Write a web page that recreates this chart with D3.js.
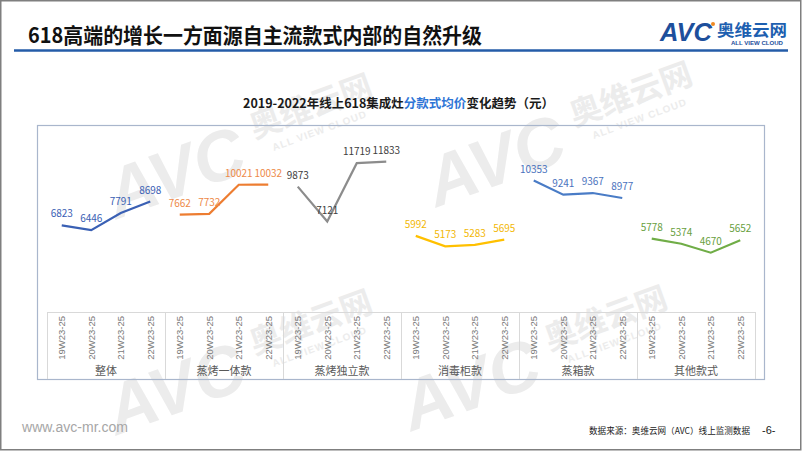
<!DOCTYPE html>
<html><head><meta charset="utf-8">
<script src="https://cdn.jsdelivr.net/npm/d3@7"></script>
<style>body{margin:0;background:#fff}svg{display:block}text{font-family:"Noto Sans CJK SC","Noto Sans",sans-serif}</style>
</head><body>
<svg id="c" width="802" height="451"></svg>
<script>
// ---- data ----
const groups = ["整体", "蒸烤一体款", "蒸烤独立款", "消毒柜款", "蒸箱款", "其他款式"];
const periods = ["19W23-25", "20W23-25", "21W23-25", "22W23-25"];
const overall = [6823, 6446, 7791, 8698];
const steamOvenCombo = [7662, 7732, 10021, 10032];
const steamOvenStandalone = [9873, 7121, 11719, 11833];
const disinfection = [5992, 5173, 5283, 5695];
const steamer = [10353, 9241, 9367, 8977];
const others = [5778, 5374, 4670, 5652];
const seriesValues = [overall, steamOvenCombo, steamOvenStandalone, disinfection, steamer, others];
const yDomain = [0, 14000];

// ---- styles ----
const lineColors = ["#3a60b4", "#ed7d31", "#8c8c8c", "#ffc000", "#4a7cc6", "#70ad47"];
const labelColors = ["#3a60b4", "#ee8a48", "#404040", "#f2b705", "#4a72bd", "#68a040"];

const svg = d3.select("#c");
const W = 802, H = 451;
svg.append("rect").attr("width", W).attr("height", H).attr("fill", "#fff");

// watermarks
const wmPos = [[175, 172], [495, 160], [175, 388], [470, 384]];
wmPos.forEach(([x, y]) => {
  const g = svg.append("g").attr("transform", `translate(${x},${y}) rotate(-20)`).attr("fill", "#ececec");
  g.append("text").attr("text-anchor", "middle").attr("dy", "0.35em")
    .style("font-family", "Liberation Sans, sans-serif").style("font-weight", 700).style("font-style", "italic")
    .style("font-size", "70px").text("AVC");
  g.append("text").attr("x", 150).attr("y", -4).attr("text-anchor", "middle")
    .style("font-weight", 700).style("font-size", "32px").text("奥维云网");
  g.append("text").attr("x", 150).attr("y", 14).attr("text-anchor", "middle")
    .style("font-family", "Liberation Sans, sans-serif").style("font-weight", 700)
    .style("font-size", "10px").style("letter-spacing", "1px").text("ALL VIEW CLOUD");
});

// slide frame
svg.append("rect").attr("x", 0.75).attr("y", 0.75).attr("width", W - 2).attr("height", H - 2)
  .attr("fill", "none").attr("stroke", "#7f7f7f").attr("stroke-width", 1.5);

// title
svg.append("text").attr("x", 28).attr("y", 43).attr("textLength", 454).attr("lengthAdjust", "spacingAndGlyphs")
  .style("font-size", "21px").style("font-weight", 700).attr("fill", "#111")
  .text("618高端的增长一方面源自主流款式内部的自然升级");
svg.append("line").attr("x1", 14).attr("x2", 788).attr("y1", 50.5).attr("y2", 50.5)
  .attr("stroke", "#245ca8").attr("stroke-width", 2.5);

// logo
svg.append("text").attr("x", 660).attr("y", 41).attr("textLength", 52).attr("lengthAdjust", "spacingAndGlyphs")
  .style("font-family", "Liberation Sans, sans-serif").style("font-weight", 700).style("font-style", "italic")
  .style("font-size", "25px").attr("fill", "#1d4f9c").text("AVC");
svg.append("circle").attr("cx", 713).attr("cy", 24).attr("r", 2).attr("fill", "#f08a24");
svg.append("text").attr("x", 717).attr("y", 36).attr("textLength", 70).attr("lengthAdjust", "spacingAndGlyphs")
  .style("font-weight", 700).style("font-size", "16px").attr("fill", "#1d5fb0").text("奥维云网");
svg.append("text").attr("x", 731).attr("y", 45).attr("textLength", 52).attr("lengthAdjust", "spacingAndGlyphs")
  .style("font-family", "Liberation Sans, sans-serif").style("font-weight", 700)
  .style("font-size", "5.5px").attr("fill", "#1d4f9c").text("ALL VIEW CLOUD");

// chart subtitle
const st = svg.append("text").attr("x", 398.5).attr("y", 108).attr("text-anchor", "middle")
  .style("font-size", "12.5px").style("font-weight", 700).attr("fill", "#1a1a1a");
st.append("tspan").text("2019-2022年线上618集成灶");
st.append("tspan").attr("fill", "#2e75d6").text("分款式均价");
st.append("tspan").text("变化趋势（元）");

// chart box
svg.append("rect").attr("x", 37.5).attr("y", 125.5).attr("width", 727).attr("height", 254)
  .attr("fill", "none").attr("stroke", "#a9b6cc").attr("stroke-width", 1.2);

// scales
const keys = [];
groups.forEach(g => periods.forEach(p => keys.push(g + "|" + p)));
const x = d3.scaleBand().domain(keys).range([47, 755]);
const xg = d3.scaleBand().domain(groups).range([47, 755]);
const y = d3.scaleLinear().domain(yDomain).range([312, 134.2]);

// category axis
const axisG = svg.append("g").attr("transform", "translate(0,312)")
  .call(d3.axisBottom(x).tickSize(0).tickSizeOuter(0).tickFormat(k => k.split("|")[1]));
axisG.select(".domain").attr("stroke", "#d9d9d9");
axisG.selectAll("text")
  .attr("y", null).attr("x", -4).attr("dy", "0.35em")
  .attr("transform", "rotate(-90)").attr("text-anchor", "end")
  .attr("fill", "#7a7a7a").style("font-size", "9.5px")
  .style("font-family", "Liberation Sans, sans-serif");

// group separators
const bounds = groups.map(g => xg(g)).concat([xg.range()[1]]);
svg.append("g").selectAll("line").data(bounds).join("line")
  .attr("x1", d => Math.round(d) + 0.5).attr("x2", d => Math.round(d) + 0.5)
  .attr("y1", 312).attr("y2", 379).attr("stroke", "#d9d9d9");
svg.append("g").selectAll("text").data(groups).join("text")
  .attr("x", d => xg(d) + xg.bandwidth() / 2).attr("y", 375).attr("text-anchor", "middle")
  .attr("fill", "#595959").style("font-size", "11px").text(d => d);

// lines + labels
const line = d3.line().x(d => d.x).y(d => d.y);
groups.forEach((g, i) => {
  const pts = periods.map((p, j) => ({
    x: x(g + "|" + p) + x.bandwidth() / 2, y: y(seriesValues[i][j]), v: seriesValues[i][j]
  }));
  svg.append("path").attr("d", line(pts)).attr("fill", "none")
    .attr("stroke", lineColors[i]).attr("stroke-width", 2.2);
  svg.append("g").selectAll("text").data(pts).join("text")
    .attr("x", d => d.x).attr("y", d => d.y - 8).attr("text-anchor", "middle")
    .attr("fill", labelColors[i]).style("font-size", "10px").text(d => d.v);
});

// footer
svg.append("text").attr("x", 22).attr("y", 432).attr("textLength", 106).attr("lengthAdjust", "spacingAndGlyphs")
  .style("font-family", "Liberation Sans, sans-serif").style("font-size", "14px")
  .attr("fill", "#a6a6a6").text("www.avc-mr.com");
svg.append("text").attr("x", 589).attr("y", 434).attr("textLength", 161).attr("lengthAdjust", "spacingAndGlyphs")
  .style("font-size", "8.7px").attr("fill", "#1a1a1a").text("数据来源：奥维云网（AVC）线上监测数据");
svg.append("text").attr("x", 762).attr("y", 434)
  .style("font-family", "Liberation Sans, sans-serif").style("font-size", "11px")
  .attr("fill", "#1a1a1a").text("-6-");
</script>
</body></html>
